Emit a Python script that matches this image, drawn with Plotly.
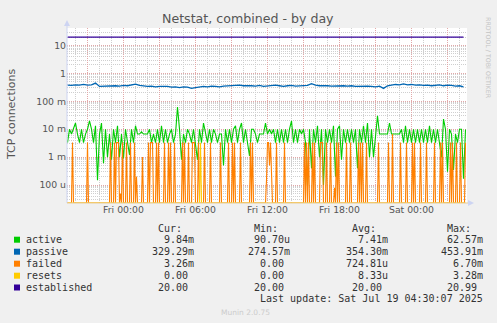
import pandas as pd
import plotly.graph_objects as go

# ---------------- data ----------------
# active: 10-minute samples, values in milli-connections
active_m = [
    3.3, 10, 6.7, 10, 16.7, 6.7, 3.3, 10, 3.3, 6.7, 10, 20, 10, 3.3, 13.3, 0.15, 6.7, 16.7, 0.6, 10,
    1.0, 6.7, 0.8, 10, 3.3, 13.3, 1.0, 6.7, 0.9, 10, 3.3, 1.2, 10, 3.3, 13.3, 6.7, 6.7, 8.0, 6.7, 6.7,
    6.7, 10, 3.3, 6.7, 3.3, 10, 3.3, 13.3, 3.3, 10, 3.3, 6.7, 10, 3.3, 6.7, 62.57, 10, 0.8, 6.7, 3.3,
    10, 6.7, 3.3, 10, 3.3, 0.8, 10, 3.3, 16.7, 6.7, 3.3, 10, 3.3, 10, 6.7, 3.3, 6.7, 6.7, 0.5, 10,
    3.3, 10, 3.3, 10, 13.3, 3.3, 10, 16.7, 3.3, 10, 3.3, 1.1, 10, 10, 6.7, 3.3, 6.7, 6.7, 6.7, 16.7,
    6.7, 10, 6.7, 10, 3.3, 10, 3.3, 10, 3.3, 10, 3.3, 10, 20, 3.3, 10, 3.3, 10, 6.7, 10, 3.3,
    0.0907, 10, 0.4, 10, 3.3, 13.3, 1.0, 10, 0.1, 10, 3.3, 10, 3.3, 13.3, 0.2, 10, 13.3, 0.8, 10, 3.3,
    10, 3.3, 10, 3.3, 10, 0.4, 10, 3.3, 13.3, 3.3, 16.7, 1.0, 10, 1.0, 6.7, 30, 6.7, 6.7, 6.7, 6.7,
    6.7, 16.7, 6.7, 6.7, 6.7, 6.7, 6.7, 10, 3.3, 13.3, 3.3, 10, 3.3, 10, 3.3, 10, 3.3, 10, 3.3, 10,
    3.3, 13.3, 3.3, 10, 3.3, 10, 3.3, 1.0, 23, 10, 0.3, 10, 6.7, 0.35, 6.7, 3.3, 10, 10, 0.17, 9.84,
]
# failed / resets: 5-minute samples, values in milli-connections
failed_m = [
    0, 0, 0, 0, 0, 0, 3.33, 0, 0, 0, 0, 0, 0, 0, 0, 0, 0, 0, 0, 0,
    0, 3.33, 0, 0, 0, 0, 0, 0, 0, 0, 0, 0, 0, 0, 0, 0, 0, 0, 0, 0,
    0, 0, 0, 0, 3.33, 0, 0, 0, 3.33, 0, 3.33, 3.33, 3.33, 0, 0.05, 0, 3.33, 0, 0, 0,
    3.33, 0, 0, 0, 3.33, 0, 0, 0, 3.33, 0, 0.2, 0, 0, 0, 0, 0, 1.0, 0, 0, 0,
    0, 0, 3.33, 0, 3.33, 3.33, 3.33, 0, 0, 0, 3.33, 0, 3.33, 0, 0, 0, 0, 0, 3.33, 0,
    0, 0, 3.33, 0, 3.33, 0, 0, 0, 3.33, 0, 0, 0, 0, 0, 0, 0, 3.33, 0, 3.33, 0,
    0, 0, 3.33, 0, 0, 0, 3.33, 3.33, 3.33, 0, 0, 0, 3.33, 0, 0, 0, 0, 0, 3.33, 0,
    0, 0, 0, 0, 3.33, 0, 0, 0, 0, 0, 0, 0, 0, 0, 3.33, 0, 0, 0, 0, 0,
    0, 0, 3.33, 0, 0, 0, 3.33, 0, 3.33, 0, 0, 0, 0, 0, 3.33, 0, 0, 0, 0, 0,
    0, 0, 0, 0, 3.33, 0, 3.33, 0, 0, 0, 0, 0, 0, 0, 0, 0, 0, 0, 0, 0,
    0.15, 3.33, 3.33, 0.5, 3.33, 0.15, 0, 0, 0, 0, 3.33, 0, 0, 0, 0, 0, 0, 0, 3.33, 0,
    0, 0, 0, 0, 0, 0, 0, 0, 0, 0, 0, 0, 0, 0, 0, 0, 0, 0, 3.33, 0,
    3.33, 0, 3.33, 0, 0, 0, 3.33, 0, 3.33, 0, 0, 0, 0, 0, 3.33, 3.33, 3.33, 0, 0, 0,
    3.33, 0, 0, 0, 3.33, 0, 0, 0, 0.08, 0, 3.33, 0, 3.33, 0, 0, 0, 0, 0, 0, 0,
    3.33, 0, 0, 0, 3.33, 0, 0, 0, 0, 0, 0, 0, 3.33, 0, 3.33, 0, 3.33, 0, 0, 0,
    3.33, 0, 0, 0, 0, 0, 0, 0, 0, 0, 0, 0, 3.33, 0, 0, 0, 0, 0, 0, 0,
    0, 0, 3.33, 0, 0, 0, 6.7, 0, 0, 0, 0, 0, 0, 0, 3.33, 0, 0, 0, 0, 0,
    3.33, 0, 0, 0, 0, 0, 3.33, 0, 3.33, 0, 0, 0, 0, 0, 3.33, 0, 0, 0, 0, 0,
    3.33, 0, 0, 0, 0, 0, 0, 0, 3.33, 0, 0, 0, 0, 0, 3.33, 0, 3.33, 0, 0, 0,
    0, 0, 0, 0, 3.33, 0, 3.33, 0, 0, 0, 3.33, 0, 0, 0, 3.33, 0, 0, 0, 0, 3.26,
]
resets_m = [0] * 134 + [3.28] + [0] * 265

# passive / established: 20-minute samples, in connections
passive = [
    0.38, 0.37, 0.39, 0.38, 0.40, 0.38, 0.39, 0.45, 0.34, 0.35,
    0.36, 0.35, 0.36, 0.35, 0.37, 0.36, 0.38, 0.41, 0.37, 0.35,
    0.34, 0.35, 0.33, 0.34, 0.35, 0.34, 0.32, 0.33, 0.31, 0.33,
    0.32, 0.29, 0.31, 0.33, 0.34, 0.33, 0.35, 0.34, 0.33, 0.35,
    0.36, 0.35, 0.37, 0.38, 0.36, 0.37, 0.36, 0.35, 0.37, 0.34,
    0.35, 0.36, 0.38, 0.36, 0.34, 0.36, 0.37, 0.35, 0.36, 0.38,
    0.37, 0.43, 0.38, 0.36, 0.37, 0.36, 0.35, 0.36, 0.37, 0.36,
    0.35, 0.36, 0.34, 0.35, 0.36, 0.35, 0.34, 0.33, 0.35, 0.29,
    0.36, 0.38, 0.40, 0.39, 0.42, 0.39, 0.40, 0.38, 0.39, 0.37,
    0.38, 0.36, 0.37, 0.39, 0.36, 0.38, 0.37, 0.35, 0.36, 0.33,
]
established = [20.0] * 45 + [20.99] + [20.0] * 54

series_names = ["active", "passive", "failed", "resets", "established"]
series_colors = ["#00CC00", "#0066B3", "#FF8000", "#FFCC00", "#330099"]
cur_vals = ["9.84m", "329.29m", "3.26m", "0.00", "20.00"]
min_vals = ["90.70u", "274.57m", "0.00", "0.00", "20.00"]
avg_vals = ["7.41m", "354.30m", "724.81u", "8.33u", "20.00"]
max_vals = ["62.57m", "453.91m", "6.70m", "3.28m", "20.99"]

y_tick_vals = [1e-4, 1e-3, 1e-2, 1e-1, 1, 10]
y_tick_text = ["100 u", "1 m", "10 m", "100 m", "1", "10"]

# ---------------- layout geometry ----------------
W, H = 497, 323
PL, PT, PW, PH = 67, 28, 400, 175
Y_LOG_MIN, Y_LOG_MAX = -4.643, 1.625
YMIN = 10 ** Y_LOG_MIN

def px(x):
    return (x - PL) / PW

def py(y):
    return (PT + PH - y) / PH

t10 = pd.date_range("2025-07-17 19:20:00", periods=len(active_m), freq="10min")
t5 = pd.date_range("2025-07-17 19:15:00", periods=len(failed_m), freq="5min")
t20 = pd.date_range("2025-07-17 19:20:00", periods=len(passive), freq="20min")

def to_plot(vals_m):
    # zero cannot be shown on a log axis; rrdtool drops it to the bottom edge
    return [v * 1e-3 if v > 0 else YMIN for v in vals_m]

fig = go.Figure()
fig.add_trace(go.Scatter(x=t10, y=to_plot(active_m), mode="lines",
                         line=dict(color=series_colors[0], width=1.1)))
fig.add_trace(go.Scatter(x=t20, y=passive, mode="lines",
                         line=dict(color=series_colors[1], width=1.3)))
fig.add_trace(go.Scatter(x=t5, y=to_plot(failed_m), mode="lines",
                         line=dict(color=series_colors[2], width=1.1)))
fig.add_trace(go.Scatter(x=t5, y=to_plot(resets_m), mode="lines",
                         line=dict(color=series_colors[3], width=1.1)))
fig.add_trace(go.Scatter(x=t20, y=established, mode="lines",
                         line=dict(color=series_colors[4], width=1.3)))

x_major = pd.date_range("2025-07-17 21:00", "2025-07-19 03:00", freq="3h")
x_major_text = [t.strftime("%a %H:%M") if t.hour % 6 == 0 else "" for t in x_major]
x_minor = pd.date_range("2025-07-17 20:00", "2025-07-19 04:00", freq="1h")
y_minor = [k * 10.0 ** e for e in range(-5, 2) for k in range(2, 10)]

MAJ = "#E2A8A8"
MIN = "#CFCFCF"
DASH = "1px,1px"
tickfont = dict(family="DejaVu Sans", size=9.3, color="#555555")

fig.update_xaxes(
    type="date", range=["2025-07-17 19:17:30", "2025-07-19 04:37:30"],
    tickmode="array", tickvals=list(x_major), ticktext=x_major_text,
    showgrid=True, gridcolor=MAJ, griddash=DASH, gridwidth=1,
    minor=dict(tickmode="array", tickvals=list(x_minor), showgrid=True,
               gridcolor=MIN, griddash=DASH, gridwidth=1, ticks=""),
    ticks="", showline=False, zeroline=False, tickfont=tickfont,
)
fig.update_yaxes(
    type="log", range=[Y_LOG_MIN, Y_LOG_MAX],
    tickmode="array", tickvals=y_tick_vals, ticktext=y_tick_text,
    showgrid=True, gridcolor=MAJ, griddash=DASH, gridwidth=1,
    minor=dict(tickmode="array", tickvals=y_minor, showgrid=True,
               gridcolor=MIN, griddash=DASH, gridwidth=1, ticks=""),
    ticks="", showline=False, zeroline=False, tickfont=tickfont,
)

AX = "#CDD4F2"
shapes = [
    dict(type="line", xref="paper", yref="paper", x0=px(67), x1=px(67), y0=py(203), y1=py(24),
         line=dict(color=AX, width=1)),
    dict(type="path", xref="paper", yref="paper",
         path=f"M {px(64)},{py(26)} L {px(70)},{py(26)} L {px(67)},{py(20)} Z",
         fillcolor=AX, line=dict(color=AX, width=0)),
    dict(type="line", xref="paper", yref="paper", x0=px(67), x1=px(468), y0=py(203), y1=py(203),
         line=dict(color="#E6CC98", width=1)),
    dict(type="path", xref="paper", yref="paper",
         path=f"M {px(468)},{py(200)} L {px(468)},{py(206)} L {px(474)},{py(203)} Z",
         fillcolor=AX, line=dict(color=AX, width=0)),
]

ann = []
def text(x, y, s, anchor="left", size=10, color="#333333", family="DejaVu Sans Mono", angle=0):
    ann.append(dict(xref="paper", yref="paper", x=px(x), y=py(y), text=s, showarrow=False,
                    xanchor=anchor, yanchor="middle", borderpad=0, borderwidth=0,
                    textangle=angle, font=dict(family=family, size=size, color=color)))

text(248.3, 18.5, "Netstat, combined - by day", anchor="center", size=12.6,
     color="#555555", family="DejaVu Sans")
text(11, 114, "TCP connections", anchor="center", size=11, color="#555555",
     family="DejaVu Sans", angle=-90)
text(488.5, 57.5, "RRDTOOL / TOBI OETIKER", anchor="center", size=6.3, color="#C4C4C4",
     family="DejaVu Sans", angle=90)
text(245.5, 312.3, "Munin 2.0.75", anchor="center", size=7.5, color="#CCCCCC",
     family="DejaVu Sans")

CH = 6.02
col_right = [194.3, 290.0, 387.7, 482.7]
headers = ["Cur:", "Min:", "Avg:", "Max:"]
for r, h in zip(col_right, headers):
    text(r - 2 * CH, 228.3, h, anchor="right")

row_y = [239.7, 251.7, 263.7, 275.7, 287.5]
for k, name in enumerate(series_names):
    y = row_y[k]
    shapes.append(dict(type="rect", xref="paper", yref="paper",
                       x0=px(14), x1=px(20), y0=py(y + 3), y1=py(y - 3),
                       fillcolor=series_colors[k], line=dict(width=0)))
    text(26.3, y, name, anchor="left")
    for r, col in zip(col_right, [cur_vals, min_vals, avg_vals, max_vals]):
        v = col[k]
        xr = r if v[-1].isalpha() else r - CH
        text(xr, y, v, anchor="right")

text(482.7, 298.5, "Last update: Sat Jul 19 04:30:07 2025", anchor="right")

fig.update_layout(
    width=W, height=H, margin=dict(l=PL, r=W - PL - PW, t=PT, b=H - PT - PH),
    paper_bgcolor="#F0F0F0", plot_bgcolor="#FFFFFF", showlegend=False,
    shapes=shapes, annotations=ann, font=dict(family="DejaVu Sans"),
)
fig.write_html("out.html")
